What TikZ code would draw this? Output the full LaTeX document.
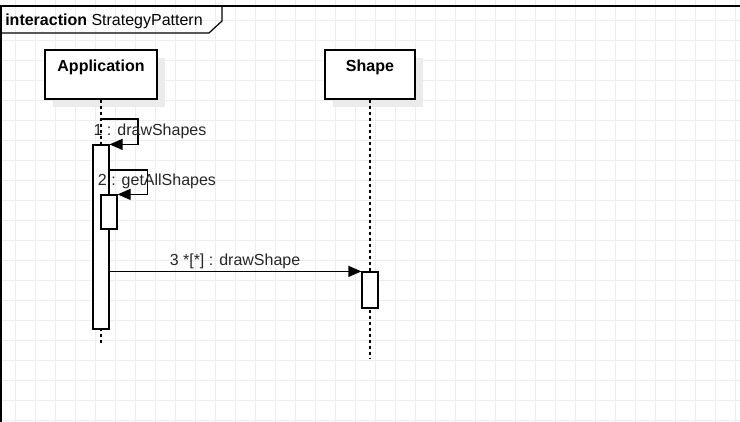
\documentclass[tikz,border=0pt]{standalone}
\usepackage{fontspec}
\setmainfont{Liberation Sans}
\usetikzlibrary{arrows.meta,shadows}
\begin{document}
\begin{tikzpicture}[x=1pt,y=-1pt,line width=1.2pt]
\tikzset{gridline/.style={color=black!7,line width=0.8pt}}
\tikzset{head/.style={draw,fill=white,minimum height=49pt,inner sep=0pt,
  text height=12pt,text depth=18pt,font=\fontsize{16}{19}\selectfont\bfseries,
  drop shadow={shadow xshift=8pt,shadow yshift=-8pt,fill=black!8,opacity=1}}}
\tikzset{act/.style={draw,fill=white,minimum width=16pt,inner sep=0pt}}
\tikzset{life/.style={dash pattern=on 3pt off 3pt}}
\tikzset{msg/.style={-{Triangle[length=13pt,width=11pt]}}}
\tikzset{msglabel/.style={anchor=base,inner sep=0pt,text=black!85,font=\fontsize{16}{19}\selectfont}}
\useasboundingbox (0,0) rectangle (740,422);
% Draw the grid
\foreach \x in {15,35,...,735} {
\draw[gridline] (\x,0) -- (\x,422);
}
\foreach \y in {20,40,...,420} {
\draw[gridline] (0,\y) -- (740,\y);
}
% the frame and its tab
\draw (740,6) -- (1,6) -- (1,422);
\draw (1,33) -- (209,33) -- (222,21) -- (222,6);
\node[anchor=base west,inner sep=0pt,font=\fontsize{16}{19}\selectfont] (title) at (4.7,26) {\textbf{interaction} StrategyPattern};
% lifeline heads
\node[head,minimum width=112pt] (app) at (101,74.5) {Application};
\node[head,minimum width=90pt] (shape) at (370,74.5) {Shape};
% lifelines
\coordinate (append) at (101,343);
\coordinate (shapeend) at (370,358);
\draw[life] (app.south) -- (append);
\draw[life] (shape.south) -- (shapeend);
% activations
\node[act,minimum height=184pt] (actapp) at (101,237) {};
\node[act,minimum height=34pt] (actget) at (109,212) {};
\node[act,minimum height=36pt] (actshape) at (370,290) {};
% messages
\coordinate (m1) at (101,119);
\draw[msg] (m1) -- ++(37,0) |- (actapp.north east);
\node[msglabel] (l1) at (150,136) {1 : drawShapes};
\coordinate (m2) at (actapp.east |- 0,170);
\draw[msg] (m2) -- ++(38,0) |- (actget.north east);
\node[msglabel] (l2) at (157,186) {2 : getAllShapes};
\draw[msg] (actapp.east |- actshape.north) -- (actshape.north west);
\node[msglabel] (l3) at (235,265.7) {3 *[*] : drawShape};
\end{tikzpicture}
\end{document}
